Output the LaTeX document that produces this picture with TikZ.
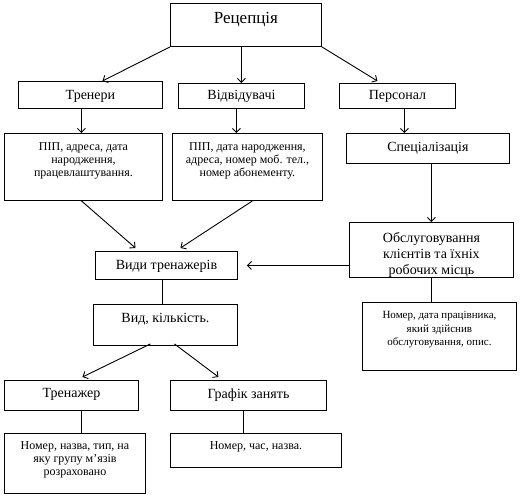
\documentclass[tikz,border=0pt]{standalone}
\usepackage{fontspec}
\setmainfont{Liberation Serif}
\usetikzlibrary{arrows.meta,calc}
\newcommand{\bx}[4]{\parbox[c][#2pt][t]{#1pt}{\centering\vspace*{#3pt}#4\par}}
\begin{document}
\begin{tikzpicture}[x=1pt,y=-1pt,
  box/.style={draw,line width=0.9pt,inner sep=0pt,anchor=north west},
  big/.style={font=\fontsize{17}{19}\selectfont},
  mid/.style={font=\fontsize{14}{16}\selectfont},
  sml/.style={font=\fontsize{12}{13}\selectfont},
  tiny/.style={font=\fontsize{11}{13.5}\selectfont},
  conn/.style={line width=0.9pt},
  arr/.style={conn,-{Straight Barb[length=4pt,width=8pt]}}]
\useasboundingbox (0,0) rectangle (521,498);
\node[box,big] (rec) at (170,3) {\bx{151}{43}{9}{Рецепція}};
\node[box,mid] (tren) at (18,81) {\bx{144}{27}{8.7}{Тренери}};
\node[box,mid] (vid) at (178,83) {\bx{126}{25}{6.7}{Відвідувачі}};
\node[box,mid] (pers) at (339,83) {\bx{116}{25}{6.7}{Персонал}};
\node[box,sml] (info1) at (4,133) {\bx{158}{67}{9}{ПІП, адреса, дата\\народження,\\працевлаштування.}};
\node[box,sml] (info2) at (172,133) {\bx{150}{67}{9}{ПІП, дата народження,\\адреса, номер моб. тел.,\\номер абонементу.}};
\node[box,mid] (spec) at (346,133) {\bx{163}{30}{8.7}{Спеціалізація}};
\node[box,mid] (obsl) at (349,222) {\bx{164}{55}{10.5}{Обслуговування\\клієнтів та їхніх\\робочих місць}};
\node[box,mid] (vidtr) at (95,251) {\bx{142}{28}{9}{Види тренажерів}};
\node[box,mid] (vidk) at (93,304) {\bx{144}{41}{9}{Вид, кількість.}};
\node[box,tiny] (nomer) at (362,302) {\bx{154}{68}{9}{Номер, дата працівника,\\який здійснив\\обслуговування, опис.}};
\node[box,mid] (trenazh) at (4,380) {\bx{134}{30}{8}{Тренажер}};
\node[box,mid] (graf) at (170,380) {\bx{156}{30}{8}{Графік занять}};
\node[box,sml] (info3) at (4,433) {\bx{141}{60}{8}{Номер, назва, тип, на\\яку групу м’язів\\розраховано}};
\node[box,sml] (info4) at (170,433) {\bx{171}{34}{8}{Номер, час, назва.}};
% connectors
\draw[arr] (rec.south west) -- ($(tren.north)+(12,0)$);
\draw[arr] (rec.south -| vid.north) -- (vid.north);
\draw[arr] (rec.south east) -- ($(pers.north)+(-20,-2)$);
\draw[arr] ($(tren.south)+(-9,0)$) -- ($(info1.north)+(-2,0)$);
\draw[arr] ($(vid.south)+(-5,0)$) -- ($(info2.north)+(-11,0)$);
\draw[arr] ($(pers.south)+(7,0)$) -- ($(spec.north)+(-23.5,0)$);
\draw[arr] ($(info1.south)+(-2,0)$) -- ($(vidtr.north)+(-31,-3)$);
\draw[arr] ($(info2.south)+(5,0)$) -- ($(vidtr.north)+(14,-3)$);
\draw[arr] (spec.south -| obsl.north) -- (obsl.north);
\draw[arr] (vidtr.east -| obsl.west) -- ($(vidtr.east)+(9,0)$);
\draw[conn] ($(vidtr.south)+(-4,0)$) -- ($(vidk.north)+(-3,0)$);
\draw[conn] (obsl.south) -- (obsl.south |- nomer.north);
\draw[arr] ($(vidk.south)+(-15,-2)$) -- ($(trenazh.north)+(11,-3)$);
\draw[arr] ($(vidk.south)+(9,-2)$) -- ($(graf.north)+(-30,-3)$);
\draw[conn] ($(trenazh.south)+(10,0)$) -- ($(info3.north)+(6.5,0)$);
\draw[conn] ($(graf.south)+(-5,0)$) -- ($(info4.north)+(-12.5,0)$);
\end{tikzpicture}
\end{document}
